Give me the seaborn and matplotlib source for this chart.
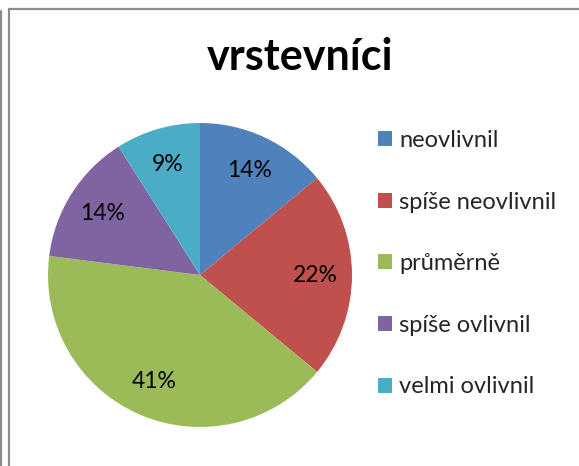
import matplotlib
matplotlib.use("Agg")
import matplotlib.pyplot as plt
import seaborn as sns
from matplotlib.lines import Line2D

# data
categories = ["neovlivnil", "spíše neovlivnil", "průměrně", "spíše ovlivnil", "velmi ovlivnil"]
shares = [14, 22, 41, 14, 9]
colors = ["#4F81BD", "#C0504D", "#9BBB59", "#8064A2", "#4BACC6"]
title = "vrstevníci"

sns.set_theme(style="white")
plt.rcParams["font.family"] = ["Lato", "DejaVu Sans"]

fig = plt.figure(figsize=(5.79, 4.66), dpi=100)
fig.patch.set_facecolor("white")

# chart area border (Excel-like frame, cut by the screenshot)
border = "#8c8c8c"
fig.add_artist(Line2D([9 / 579, 9 / 579], [0, 1 - 9 / 466], color=border, lw=1.6,
                      transform=fig.transFigure))
fig.add_artist(Line2D([9 / 579, 1], [1 - 9 / 466, 1 - 9 / 466], color=border, lw=1.6,
                      transform=fig.transFigure))
fig.add_artist(Line2D([1 / 579, 1 / 579], [0, 1 - 11 / 466], color=border, lw=1.6,
                      transform=fig.transFigure))

ax = fig.add_axes([48 / 579, (466 - 275 - 152) / 466, 304 / 579, 304 / 466])
wedges, texts, autotexts = ax.pie(
    shares,
    colors=colors,
    startangle=90,
    counterclock=False,
    autopct="%1.0f%%",
    pctdistance=0.76,
    radius=1,
    wedgeprops=dict(linewidth=0),
    textprops=dict(fontsize=16.5, color="black"),
)
ax.set_aspect("equal")
ax.set_xlim(-1, 1)
ax.set_ylim(-1, 1)
ax.axis("off")

fig.text(300 / 579, 1 - 57 / 466, title, ha="center", va="center",
         fontsize=31, fontweight="bold", color="black")

fig.legend(
    wedges, categories,
    loc="upper left",
    bbox_to_anchor=(378 / 579, 1 - 130 / 466),
    frameon=False,
    fontsize=17,
    handlelength=0.6,
    handleheight=0.6,
    handletextpad=0.3,
    labelspacing=1.72,
    borderpad=0,
    borderaxespad=0,
)

fig.savefig("out.png", dpi=100, facecolor="white")
